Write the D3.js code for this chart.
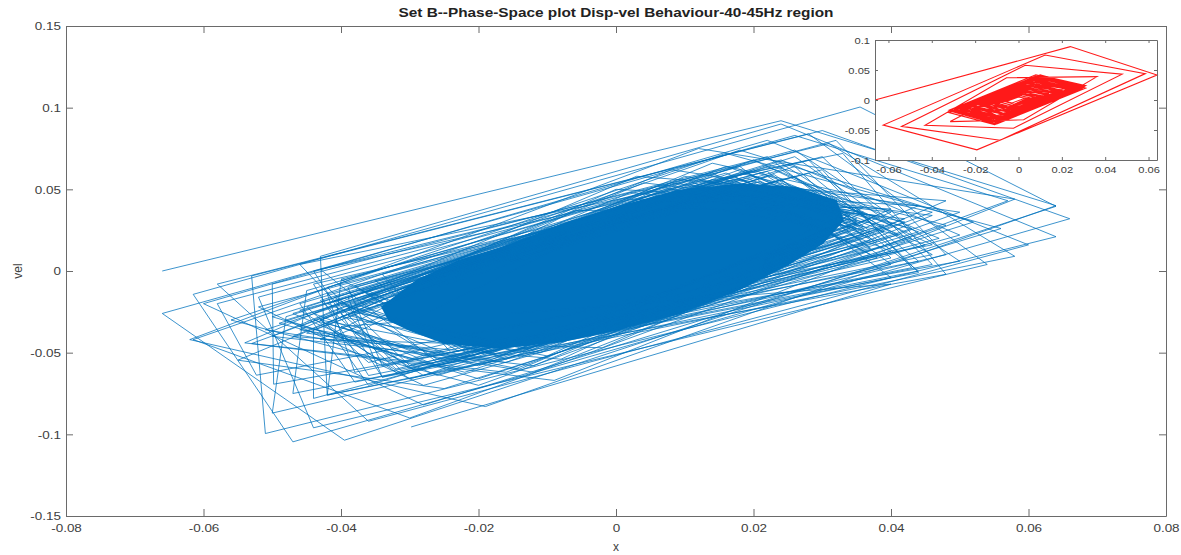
<!DOCTYPE html>
<html>
<head>
<meta charset="utf-8">
<script src="https://cdn.jsdelivr.net/npm/d3@7/dist/d3.min.js"></script>
<style>
body { margin: 0; background: #fff; }
text { font-family: "Liberation Sans", Arial, sans-serif; fill: #404040; }
</style>
</head>
<body>
<script>
// phase-space trajectory, [disp, vel]
var bluePath = [
  [-0.066, 0.000],
  [0.024, 0.092], [0.064, 0.040], [-0.019, -0.083], [-0.062, -0.042],
  [0.012, 0.075], [0.058, 0.044], [-0.009, -0.067], [-0.054, -0.044],
  [0.003, 0.058], [0.048, 0.043], [-0.002, -0.047], [-0.043, -0.042],
  [-0.006, 0.037], [0.036, 0.039], [0.004, -0.033], [-0.031, -0.033],
  [0.006, 0.044], [0.031, 0.026], [-0.008, -0.040], [-0.034, -0.020],
  [0.012, 0.050], [0.034, 0.018], [-0.014, -0.045], [-0.037, -0.012],
  [0.017, 0.056], [0.037, 0.010], [-0.021, -0.050], [-0.040, -0.005],
  [0.022, 0.061], [0.040, 0.004], [-0.026, -0.056], [-0.043, 0.001],
  [0.028, 0.068], [0.044, -0.001], [-0.031, -0.062], [-0.046, 0.004],
  [0.033, 0.072], [0.048, -0.002], [-0.034, -0.065], [-0.044, 0.000],
  [0.031, 0.078], [0.058, 0.009], [-0.042, -0.076], [-0.043, 0.009],
  [0.024, 0.090], [0.064, 0.021], [-0.051, -0.0995], [-0.053, -0.003],
  [0.030, 0.086], [0.066, 0.032], [-0.047, -0.1046], [-0.0615, -0.0143],
  [0.0355, 0.1004], [0.064, 0.0396], [-0.0395, -0.1036], [-0.066, -0.026],
  [0.026, 0.083], [0.057, 0.043], [-0.030, -0.090], [-0.0615, -0.042],
  [0.018, 0.074], [0.052, 0.030], [-0.025, -0.072], [-0.055, -0.0546],
  [0.014, 0.066], [0.046, 0.036], [-0.016, -0.062], [-0.053, -0.0444],
  [0.020, 0.068], [0.046, 0.016], [-0.0523, -0.0638], [-0.058, -0.020],
  [0.026, 0.074], [0.050, 0.006], [-0.0498, -0.0693], [-0.050, -0.008],
  [0.022, 0.070], [0.044, 0.000], [-0.047, -0.075], [-0.045, -0.012],
  [0.018, 0.064], [0.040, -0.004], [-0.042, -0.076], [-0.040, -0.006],
  [0.014, 0.060], [0.038, 0.008], [-0.034, -0.065], [-0.039, -0.016],
  [0.010, 0.056], [0.036, 0.016], [-0.030, -0.060], [-0.040, -0.026],
  [0.006, 0.052], [0.035, 0.026], [-0.024, -0.056], [-0.042, -0.032],
  [0.002, 0.048], [0.038, 0.034], [-0.018, -0.054], [-0.046, -0.036],
  [0.000, 0.050], [0.044, 0.040], [-0.012, -0.058], [-0.050, -0.040],
  [0.008, 0.062], [0.050, 0.036], [-0.020, -0.070], [-0.056, -0.030],
  [0.016, 0.072], [0.056, 0.026], [-0.028, -0.082], [-0.060, -0.020],
  [0.022, 0.080], [0.060, 0.016], [-0.036, -0.092], [-0.058, -0.008],
  [0.028, 0.084], [0.054, 0.004], [-0.044, -0.096], [-0.052, -0.016],
  [0.032, 0.080], [0.048, 0.010], [-0.050, -0.087], [-0.048, -0.028],
  [0.026, 0.070], [0.043, 0.020], [-0.044, -0.078], [-0.044, -0.036],
  [0.020, 0.062], [0.040, 0.028], [-0.036, -0.070], [-0.041, -0.040],
  [0.014, 0.056], [0.037, 0.032], [-0.028, -0.064], [-0.038, -0.038],
  [0.010, 0.058], [0.042, 0.030], [-0.020, -0.058], [-0.044, -0.030],
  [0.004, 0.054], [0.040, 0.036], [-0.014, -0.060], [-0.046, -0.034],
  [0.016, 0.064], [0.044, 0.024], [-0.026, -0.064], [-0.047, -0.026],
  [0.020, 0.058], [0.045, 0.016], [-0.032, -0.060], [-0.043, -0.018],
  [0.012, 0.052], [0.041, 0.022], [-0.036, -0.056], [-0.045, -0.022],
  [0.008, 0.050], [0.039, 0.028], [-0.030, -0.054], [-0.048, -0.030],
  [0.024, 0.062], [0.046, 0.010], [-0.038, -0.062], [-0.042, -0.014],
  [0.028, 0.060], [0.044, 0.006], [-0.034, -0.058], [-0.039, -0.010],
  [0.018, 0.050], [0.040, 0.012], [-0.028, -0.052], [-0.044, -0.026],
  [0.006, 0.048], [0.042, 0.032], [-0.016, -0.056], [-0.045, -0.038],
  [0.014, 0.058], [0.043, 0.026], [-0.022, -0.062], [-0.049, -0.032],
  [0.022, 0.064], [0.047, 0.020], [-0.030, -0.066], [-0.046, -0.024],
  [0.026, 0.058], [0.041, 0.012], [-0.026, -0.054], [-0.041, -0.016],
  [0.030, 0.062], [0.043, 0.002], [-0.036, -0.064], [-0.044, -0.008],
  [0.020, 0.054], [0.038, 0.018], [-0.024, -0.052], [-0.042, -0.020],
  [0.012, 0.048], [0.037, 0.024], [-0.018, -0.050], [-0.043, -0.030],
  [0.002, 0.044], [0.040, 0.038], [-0.008, -0.054], [-0.047, -0.040],
  [0.008, 0.054], [0.046, 0.034], [-0.012, -0.062], [-0.051, -0.036],
  [0.018, 0.060], [0.048, 0.028], [-0.020, -0.066], [-0.050, -0.028],
  [0.024, 0.068], [0.050, 0.022], [-0.028, -0.070], [-0.052, -0.022],
  [0.018, 0.056], [0.035, 0.030], [-0.018, -0.050], [-0.038, -0.020],
  [0.022, 0.058], [0.036, 0.022], [-0.020, -0.048], [-0.036, -0.012],
  [0.014, 0.054], [0.034, 0.034], [-0.014, -0.050], [-0.039, -0.024],
  [0.020, 0.052], [0.033, 0.018], [-0.022, -0.046], [-0.035, -0.006],
  [0.010, 0.050], [0.036, 0.036], [-0.010, -0.052], [-0.040, -0.028],
  [0.024, 0.056], [0.037, 0.014], [-0.024, -0.050], [-0.034, -0.002],
  [0.016, 0.060], [0.034, 0.026], [-0.016, -0.054], [-0.041, -0.018],
  [0.012, 0.056], [0.035, 0.030], [-0.012, -0.048], [-0.037, -0.026],
  [0.019, 0.057], [0.036, 0.027], [-0.019, -0.051], [-0.039, -0.022],
  [0.015, 0.055], [0.035, 0.032], [-0.015, -0.049], [-0.037, -0.017],
  [0.023, 0.059], [0.037, 0.019], [-0.021, -0.052], [-0.038, -0.009],
  [0.011, 0.052], [0.034, 0.036], [-0.011, -0.050], [-0.040, -0.021],
  [0.021, 0.055], [0.036, 0.024], [-0.023, -0.049], [-0.036, -0.015],
  [0.017, 0.058], [0.035, 0.028], [-0.017, -0.052], [-0.039, -0.027],
  [0.026, 0.064], [0.040, 0.008], [-0.030, -0.058], [-0.042, -0.010],
  [0.030, 0.070], [0.046, 0.004], [-0.038, -0.068], [-0.046, -0.020],
  [0.024, 0.066], [0.042, 0.018], [-0.032, -0.062], [-0.043, -0.030],
  [0.018, 0.062], [0.039, 0.024], [-0.026, -0.058], [-0.040, -0.034],
  [0.040, -0.008], [-0.0298, -0.0955]
];

// outline of the solid blue core
var blueCore = [
  [-0.034, -0.022], [-0.029, -0.006], [-0.023, 0.006], [-0.016, 0.015],
  [-0.008, 0.028], [0.001, 0.040], [0.009, 0.049], [0.018, 0.053],
  [0.026, 0.051], [0.032, 0.043], [0.033, 0.031], [0.030, 0.017],
  [0.025, 0.004], [0.018, -0.011], [0.009, -0.026], [0.000, -0.036],
  [-0.008, -0.043], [-0.017, -0.047], [-0.025, -0.044], [-0.030, -0.036],
  [-0.033, -0.030]
];

// inset (red) trajectory
var redPath = [
  [-0.0662, 0.000],
  [0.0239, 0.089], [0.0639, 0.0417], [-0.0192, -0.083], [-0.0624, -0.0417],
  [0.0123, 0.075], [0.0585, 0.044], [-0.0085, -0.067], [-0.0539, -0.044],
  [0.0031, 0.058], [0.0478, 0.043], [-0.0023, -0.047], [-0.0431, -0.042],
  [-0.0055, 0.037], [0.0362, 0.039], [0.0024, -0.033], [-0.0315, -0.036],
  [0.010, 0.042], [0.030, 0.022], [-0.011, -0.039], [-0.031, -0.019],
  [0.008, 0.040], [0.029, 0.020], [-0.010, -0.037], [-0.030, -0.017],
  [0.009, 0.037], [0.028, 0.023], [-0.012, -0.036], [-0.029, -0.020],
  [0.006, 0.036], [0.027, 0.019], [-0.009, -0.034], [-0.027, -0.015],
  [0.007, 0.033], [0.025, 0.017], [-0.010, -0.032], [-0.026, -0.017],
  [0.004, 0.031], [0.024, 0.020], [-0.007, -0.030], [-0.024, -0.013],
  [0.006, 0.028], [0.022, 0.014], [-0.008, -0.028], [-0.023, -0.014],
  [0.003, 0.026], [0.020, 0.016], [-0.005, -0.026], [-0.021, -0.011],
  [0.005, 0.023], [0.019, 0.011], [-0.007, -0.024], [-0.019, -0.012],
  [0.002, 0.021], [0.017, 0.013], [-0.004, -0.021], [-0.017, -0.009],
  [0.004, 0.018], [0.015, 0.009], [-0.006, -0.019], [-0.015, -0.010],
  [0.002, 0.016], [0.013, 0.010], [-0.003, -0.016], [-0.013, -0.007],
  [0.003, 0.013], [0.011, 0.007], [-0.005, -0.013], [-0.011, -0.008],
  [0.001, 0.011], [0.009, 0.006], [-0.004, -0.011], [-0.010, -0.005],
  [0.002, 0.009], [0.007, 0.005], [-0.003, -0.009], [-0.008, -0.004],
  [0.001, 0.007], [0.005, 0.004], [-0.002, -0.007], [-0.006, -0.003],
  [0.000, 0.005], [0.003, 0.003], [-0.003, -0.005], [-0.006, -0.002],
  [0.010, 0.041], [0.031, 0.024], [-0.012, -0.040], [-0.032, -0.021],
  [0.011, 0.039], [0.029, 0.018], [-0.013, -0.038], [-0.030, -0.014],
  [0.007, 0.038], [0.030, 0.021], [-0.009, -0.038], [-0.031, -0.018],
  [0.009, 0.035], [0.027, 0.016], [-0.011, -0.035], [-0.028, -0.013],
  [0.005, 0.034], [0.026, 0.021], [-0.008, -0.033], [-0.028, -0.018],
  [0.008, 0.030], [0.025, 0.015], [-0.010, -0.031], [-0.025, -0.012],
  [0.004, 0.029], [0.023, 0.018], [-0.006, -0.029], [-0.025, -0.016],
  [0.007, 0.026], [0.021, 0.012], [-0.009, -0.027], [-0.022, -0.010],
  [0.003, 0.024], [0.020, 0.015], [-0.005, -0.025], [-0.021, -0.014],
  [0.006, 0.020], [0.018, 0.010], [-0.007, -0.022], [-0.018, -0.008],
  [0.002, 0.018], [0.016, 0.012], [-0.004, -0.019], [-0.016, -0.011],
  [0.004, 0.015], [0.013, 0.008], [-0.006, -0.016], [-0.014, -0.006],
  [0.005, 0.030], [0.027, 0.022], [-0.007, -0.033], [-0.029, -0.019],
  [0.007, 0.034], [0.029, 0.019], [-0.009, -0.036], [-0.030, -0.015],
  [0.003, 0.028], [0.024, 0.021], [-0.005, -0.030], [-0.026, -0.018],
  [0.009, 0.031], [0.026, 0.014], [-0.012, -0.033], [-0.027, -0.011],
  [0.006, 0.022], [0.020, 0.017], [-0.005, -0.023], [-0.022, -0.015],
  [0.008, 0.024], [0.022, 0.010], [-0.010, -0.026], [-0.021, -0.008],
  [0.003, 0.019], [0.018, 0.014], [-0.004, -0.020], [-0.019, -0.013],
  [0.005, 0.017], [0.016, 0.007], [-0.007, -0.018], [-0.016, -0.006],
  [0.001, 0.014], [0.014, 0.011], [-0.002, -0.015], [-0.015, -0.010],
  [0.004, 0.012], [0.012, 0.005], [-0.005, -0.012], [-0.012, -0.005],
  [0.002, 0.010], [0.010, 0.008], [-0.002, -0.011], [-0.010, -0.008],
  [0.009, 0.036], [0.028, 0.020], [-0.011, -0.036], [-0.029, -0.016],
  [0.006, 0.032], [0.026, 0.018], [-0.008, -0.031], [-0.027, -0.016],
  [0.008, 0.027], [0.023, 0.013], [-0.009, -0.029], [-0.024, -0.013],
  [0.004, 0.024], [0.021, 0.014], [-0.006, -0.024], [-0.020, -0.010],
  [0.010, 0.040], [0.031, 0.020], [-0.010, -0.040], [-0.032, -0.017],
  [0.008, 0.042], [0.030, 0.024], [-0.011, -0.041], [-0.031, -0.022]
];

var mainXTicks = [-0.08, -0.06, -0.04, -0.02, 0, 0.02, 0.04, 0.06, 0.08];
var mainYTicks = [-0.15, -0.1, -0.05, 0, 0.05, 0.1, 0.15];
var insetXTicks = [-0.06, -0.04, -0.02, 0, 0.02, 0.04, 0.06];
var insetYTicks = [-0.1, -0.05, 0, 0.05, 0.1];

var W = 1181, H = 555;
var MAIN = { left: 66, right: 1166, top: 26, bottom: 516 };
var INSET = { left: 875, right: 1157, top: 40, bottom: 160 };
var STRETCH = 1.17; // the picture's text is a bit wider than the font

var svg = d3.select("body").append("svg").attr("width", W).attr("height", H);
svg.append("rect").attr("width", W).attr("height", H).attr("fill", "#fff");

var x = d3.scaleLinear().domain([-0.08, 0.08]).range([MAIN.left, MAIN.right]);
var y = d3.scaleLinear().domain([-0.15, 0.15]).range([MAIN.bottom, MAIN.top]);

var xi = d3.scaleLinear().domain([-0.0662, 0.0639]).range([INSET.left, INSET.right]);
var yi = d3.scaleLinear().domain([-0.1, 0.1]).range([INSET.bottom, INSET.top]);

function fmt(v) { return String(+v.toFixed(3)); }

function widen(sel, k) {
	sel.each(function () {
		var w = this.getComputedTextLength();
		if (w > 0) d3.select(this).attr("textLength", w * k).attr("lengthAdjust", "spacingAndGlyphs");
	});
}

// MATLAB-like box axes: ticks inward on all four sides, labels left/bottom
function drawBox(g, sx, sy, xt, yt, tick, fsize, padX, padY) {
	var r = sx.range(), t = sy.range();
	g.append("g").attr("transform", "translate(0," + t[0] + ")")
		.call(d3.axisBottom(sx).tickValues(xt).tickSize(-tick).tickSizeOuter(0).tickPadding(padX).tickFormat(fmt));
	g.append("g").attr("transform", "translate(0," + t[1] + ")")
		.call(d3.axisTop(sx).tickValues(xt).tickSize(-tick).tickSizeOuter(0).tickFormat(""));
	g.append("g").attr("transform", "translate(" + r[0] + ",0)")
		.call(d3.axisLeft(sy).tickValues(yt).tickSize(-tick).tickSizeOuter(0).tickPadding(padY).tickFormat(fmt));
	g.append("g").attr("transform", "translate(" + r[1] + ",0)")
		.call(d3.axisRight(sy).tickValues(yt).tickSize(-tick).tickSizeOuter(0).tickFormat(""));
	g.selectAll(".domain").attr("stroke", "#6a6a6a").attr("stroke-width", 1);
	g.selectAll(".tick line").attr("stroke", "#6a6a6a").attr("stroke-width", 1);
	g.selectAll(".tick text").attr("fill", "#4a4a4a").style("font-size", fsize + "px")
		.attr("font-family", "'Liberation Sans', Arial, sans-serif");
	widen(g.selectAll(".tick text"), STRETCH);
}

// main plot
var line = d3.line().x(function (d) { return x(d[0]); }).y(function (d) { return y(d[1]); });

svg.append("path")
	.datum(blueCore)
	.attr("d", d3.line().x(function (d) { return x(d[0]); }).y(function (d) { return y(d[1]); }).curve(d3.curveLinearClosed))
	.attr("fill", "#0072BD")
	.attr("stroke", "#0072BD")
	.attr("stroke-width", 2);

svg.append("path")
	.datum(bluePath)
	.attr("d", line)
	.attr("fill", "none")
	.attr("stroke", "#0072BD")
	.attr("stroke-width", 0.9)
	.attr("stroke-opacity", 0.85)
	.attr("stroke-linejoin", "miter");

drawBox(svg.append("g"), x, y, mainXTicks, mainYTicks, 7, 11.5, 8, 5);

var title = svg.append("text")
	.attr("x", (MAIN.left + MAIN.right) / 2).attr("y", 17)
	.attr("text-anchor", "middle")
	.style("font-size", "12px").style("font-weight", "bold").style("fill", "#222")
	.text("Set B--Phase-Space plot Disp-vel Behaviour-40-45Hz region");
title.attr("textLength", 435).attr("lengthAdjust", "spacingAndGlyphs");

svg.append("text")
	.attr("x", (MAIN.left + MAIN.right) / 2).attr("y", 551)
	.attr("text-anchor", "middle")
	.style("font-size", "12px")
	.text("x");

svg.append("text")
	.attr("transform", "translate(22," + y(0) + ") rotate(-90)")
	.attr("text-anchor", "middle")
	.style("font-size", "12px")
	.text("vel");

// inset
var ins = svg.append("g");
ins.append("rect")
	.attr("x", INSET.left).attr("y", INSET.top)
	.attr("width", INSET.right - INSET.left).attr("height", INSET.bottom - INSET.top)
	.attr("fill", "#fff");

ins.append("path")
	.datum(redPath)
	.attr("d", d3.line().x(function (d) { return xi(d[0]); }).y(function (d) { return yi(d[1]); }))
	.attr("fill", "none")
	.attr("stroke", "#FF0000")
	.attr("stroke-width", 1.1)
	.attr("stroke-opacity", 0.9);

drawBox(ins, xi, yi, insetXTicks, insetYTicks, 3, 9.5, 6, 5);
</script>
</body>
</html>
